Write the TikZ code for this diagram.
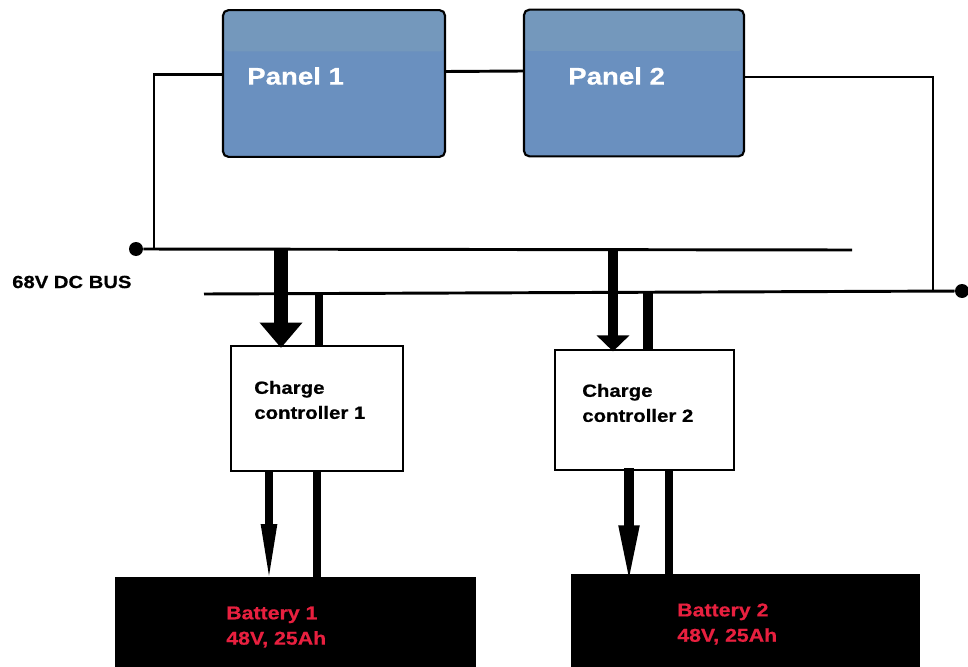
\documentclass[tikz,border=0pt]{standalone}
\usepackage{fontspec}
\setmainfont[FakeStretch=1.15,BoldFeatures={FakeBold=0.6}]{Liberation Sans}
\usetikzlibrary{arrows.meta}
\definecolor{panelLow}{HTML}{6A90BF}
\definecolor{panelTop}{HTML}{7498BC}
\definecolor{battText}{HTML}{E8203F}
\tikzset{
  x=.75pt,y=-.75pt,
  panel/.style={draw=black,line width=1.6pt,rounded corners=4pt,fill=panelLow,inner sep=0pt,
    minimum height=110pt,
    path picture={\fill[panelTop] (path picture bounding box.north west) rectangle ([yshift=-31pt]path picture bounding box.north east);}},
  ctrl/.style={draw=black,line width=1.9pt,fill=white,inner sep=0pt},
  batt/.style={fill=black,draw=none,inner sep=0pt},
  dot/.style={circle,fill=black,inner sep=0pt,minimum size=10.5pt},
  wire/.style={line width=2.2pt,draw=black},
  paneltxt/.style={anchor=west,text=white,font=\bfseries\fontsize{18}{22}\selectfont,inner sep=0pt},
  ctrltxt/.style={anchor=west,align=left,text=black,font=\bfseries\fontsize{13.3}{18.75}\selectfont,inner sep=0pt},
  batttxt/.style={anchor=west,align=left,text=battText,font=\bfseries\fontsize{13.9}{19}\selectfont,inner sep=0pt},
  bustxt/.style={anchor=west,text=black,font=\bfseries\fontsize{13.2}{15}\selectfont,inner sep=0pt},
}
\begin{document}
\begin{tikzpicture}
\useasboundingbox[fill=white] (0,0) rectangle (968,667);
% panels
\node[panel,minimum width=166.5pt] (p1) at (334,83.5) {};
\node[panel,minimum width=165pt] (p2) at (634,83) {};
\node[paneltxt] (p1t) at (247,76) {Panel 1};
\node[paneltxt] (p2t) at (568,76) {Panel 2};
% controllers
\node[ctrl,minimum width=129pt,minimum height=94pt] (c1) at (317,408.5) {};
\node[ctrl,minimum width=134pt,minimum height=90pt] (c2) at (644.5,410) {};
\node[ctrltxt] (c1t) at (254,400) {Charge\\controller 1};
\node[ctrltxt] (c2t) at (582,403) {Charge\\controller 2};
% batteries
\node[batt,minimum width=270.75pt,minimum height=67.5pt] (b1) at (295.5,622) {};
\node[batt,minimum width=261.75pt,minimum height=70pt] (b2) at (745.5,620.5) {};
\node[batttxt] (b1t) at (226,627) {Battery 1\\48V, 25Ah};
\node[batttxt] (b2t) at (677,624) {Battery 2\\48V, 25Ah};
% bus
\node[dot] (dl) at (136,249) {};
\node[dot] (dr) at (962,291) {};
\coordinate (be) at (852,250);
\coordinate (bs) at (204,294);
\coordinate (jl) at (154,249);
\coordinate (jr) at (933,291);
\coordinate (a1) at (281,249);
\coordinate (l1) at (319,293.5);
\coordinate (a2) at (613,249);
\coordinate (l2) at (648,292.5);
\coordinate (a3) at (269,471);
\coordinate (l3) at (317,471);
\coordinate (a4) at (629,468);
\coordinate (l4) at (669,470);
\node[bustxt] (bus) at (12,282) {68V DC BUS};
\draw[wire] (dl) -- (be);
\draw[wire] (bs) -- (dr);
\draw[wire] ([yshift=7pt]p1.west) -| (jl);
\draw[wire] ([yshift=9pt]p1.east) -- ([yshift=9pt]p2.west);
\draw[wire] ([yshift=4.5pt]p2.east) -| (jr);
% controller links
\draw[line width=10.5pt,shorten >=-2.5pt,-{Triangle[length=19pt,width=31pt]}] (a1) -- (a1 |- c1.north);
\draw[line width=5.5pt] (l1) -- (l1 |- c1.north);
\draw[line width=8pt,shorten >=-2pt,-{Triangle[length=12pt,width=24pt]}] (a2) -- (a2 |- c2.north);
\draw[line width=7.5pt] (l2) -- (l2 |- c2.north);
\draw[line width=6pt,shorten >=-7.5pt,-{Triangle[length=47pt,width=10.5pt]}] (a3) -- (a3 |- b1.north);
\draw[line width=6.5pt] (l3) -- (l3 |- b1.north);
\draw[line width=7.5pt,shorten >=-8.5pt,-{Triangle[length=47pt,width=13.5pt]}] (a4) -- (a4 |- b1.north);
\draw[line width=6.5pt] (l4) -- (l4 |- b2.north);
\end{tikzpicture}
\end{document}
